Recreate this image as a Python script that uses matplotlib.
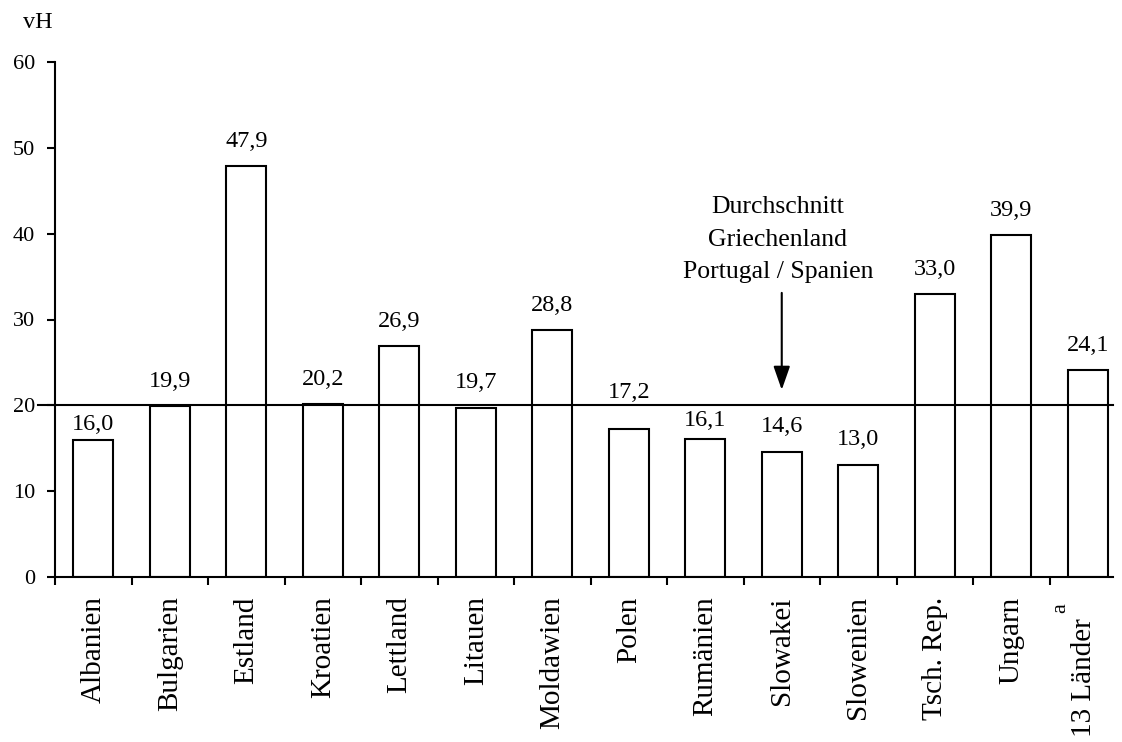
import numpy as np
import matplotlib
matplotlib.use("Agg")
import matplotlib.pyplot as plt
import matplotlib.transforms as mtransforms

plt.rcParams["font.family"] = ["Liberation Serif", "DejaVu Serif"]

countries = ["Albanien", "Bulgarien", "Estland", "Kroatien", "Lettland", "Litauen",
             "Moldawien", "Polen", "Rumänien", "Slowakei", "Slowenien", "Tsch. Rep.",
             "Ungarn", "13 Länder"]
values = [16.0, 19.9, 47.9, 20.2, 26.9, 19.7, 28.8, 17.2, 16.1, 14.6, 13.0, 33.0, 39.9, 24.1]
value_labels = ["16,0", "19,9", "47,9", "20,2", "26,9", "19,7", "28,8", "17,2",
                "16,1", "14,6", "13,0", "33,0", "39,9", "24,1"]
reference = 20.0
reference_text = "Durchschnitt\nGriechenland\nPortugal / Spanien"

# gap (pixels) between bar top and label baseline, hand placed in the original
label_gap = [10, 19, 19, 19, 19, 20, 19, 31, 13, 20, 20, 19, 19, 19]

fig = plt.figure(figsize=(11.22, 7.42), dpi=100)
ax = fig.add_axes([55 / 1122, 165 / 742, 1058 / 1122, 515 / 742])

x = np.arange(len(countries))
ax.bar(x, values, width=0.523, color="white", edgecolor="black", linewidth=1.5, zorder=2)

for xi, v, lab, gap in zip(x, values, value_labels, label_gap):
    ax.annotate(lab, xy=(xi, v), xytext=(0, gap), textcoords="offset pixels",
                ha="center", va="baseline", fontsize=17.5)

# reference line (runs a bit past the y axis on the left)
ax.plot([-0.016, 1.0], [reference, reference], color="black", linewidth=1.5,
        transform=ax.get_yaxis_transform(), clip_on=False, zorder=3)

ax.annotate("", xy=(9, 21.8), xytext=(9, 33.1),
            arrowprops=dict(arrowstyle="-|>,head_length=0.8,head_width=0.28",
                            color="black", lw=1.5, mutation_scale=18,
                            shrinkA=0, shrinkB=0))
ax.text(8.95, 39.3, reference_text, ha="center", va="center", fontsize=18.5,
        linespacing=1.62)

ax.set_xlim(-0.5, -0.5 + 1058 / 76.5)
ax.set_ylim(0, 60)
ax.set_yticks(np.arange(0, 61, 10))
ax.tick_params(axis="y", direction="out", length=6, width=1.5, pad=8.5, labelsize=16)

ax.set_xticks(x)
ax.set_xticklabels(countries, rotation=90, fontsize=21)
ax.set_xticks(np.arange(-0.5, len(countries) - 1, 1.0), minor=True)
ax.tick_params(axis="x", which="major", length=0, pad=14)
ax.tick_params(axis="x", which="minor", direction="out", length=6, width=1.5)

# last label sits lower, with its footnote mark above it
last = ax.get_xticklabels()[-1]
last.set_transform(last.get_transform() +
                   mtransforms.ScaledTranslation(-4 / 100, -22 / 100, fig.dpi_scale_trans))
ax.annotate("a", xy=(13, 0), xytext=(-27, -31), textcoords="offset pixels",
            rotation=90, ha="center", va="center", fontsize=16)

for side in ["top", "right"]:
    ax.spines[side].set_visible(False)
for side in ["left", "bottom"]:
    ax.spines[side].set_linewidth(1.5)

fig.text(38 / 1122, 1 - 22 / 742, "vH", ha="center", va="center", fontsize=17.5)

fig.savefig("out.png", dpi=100)
